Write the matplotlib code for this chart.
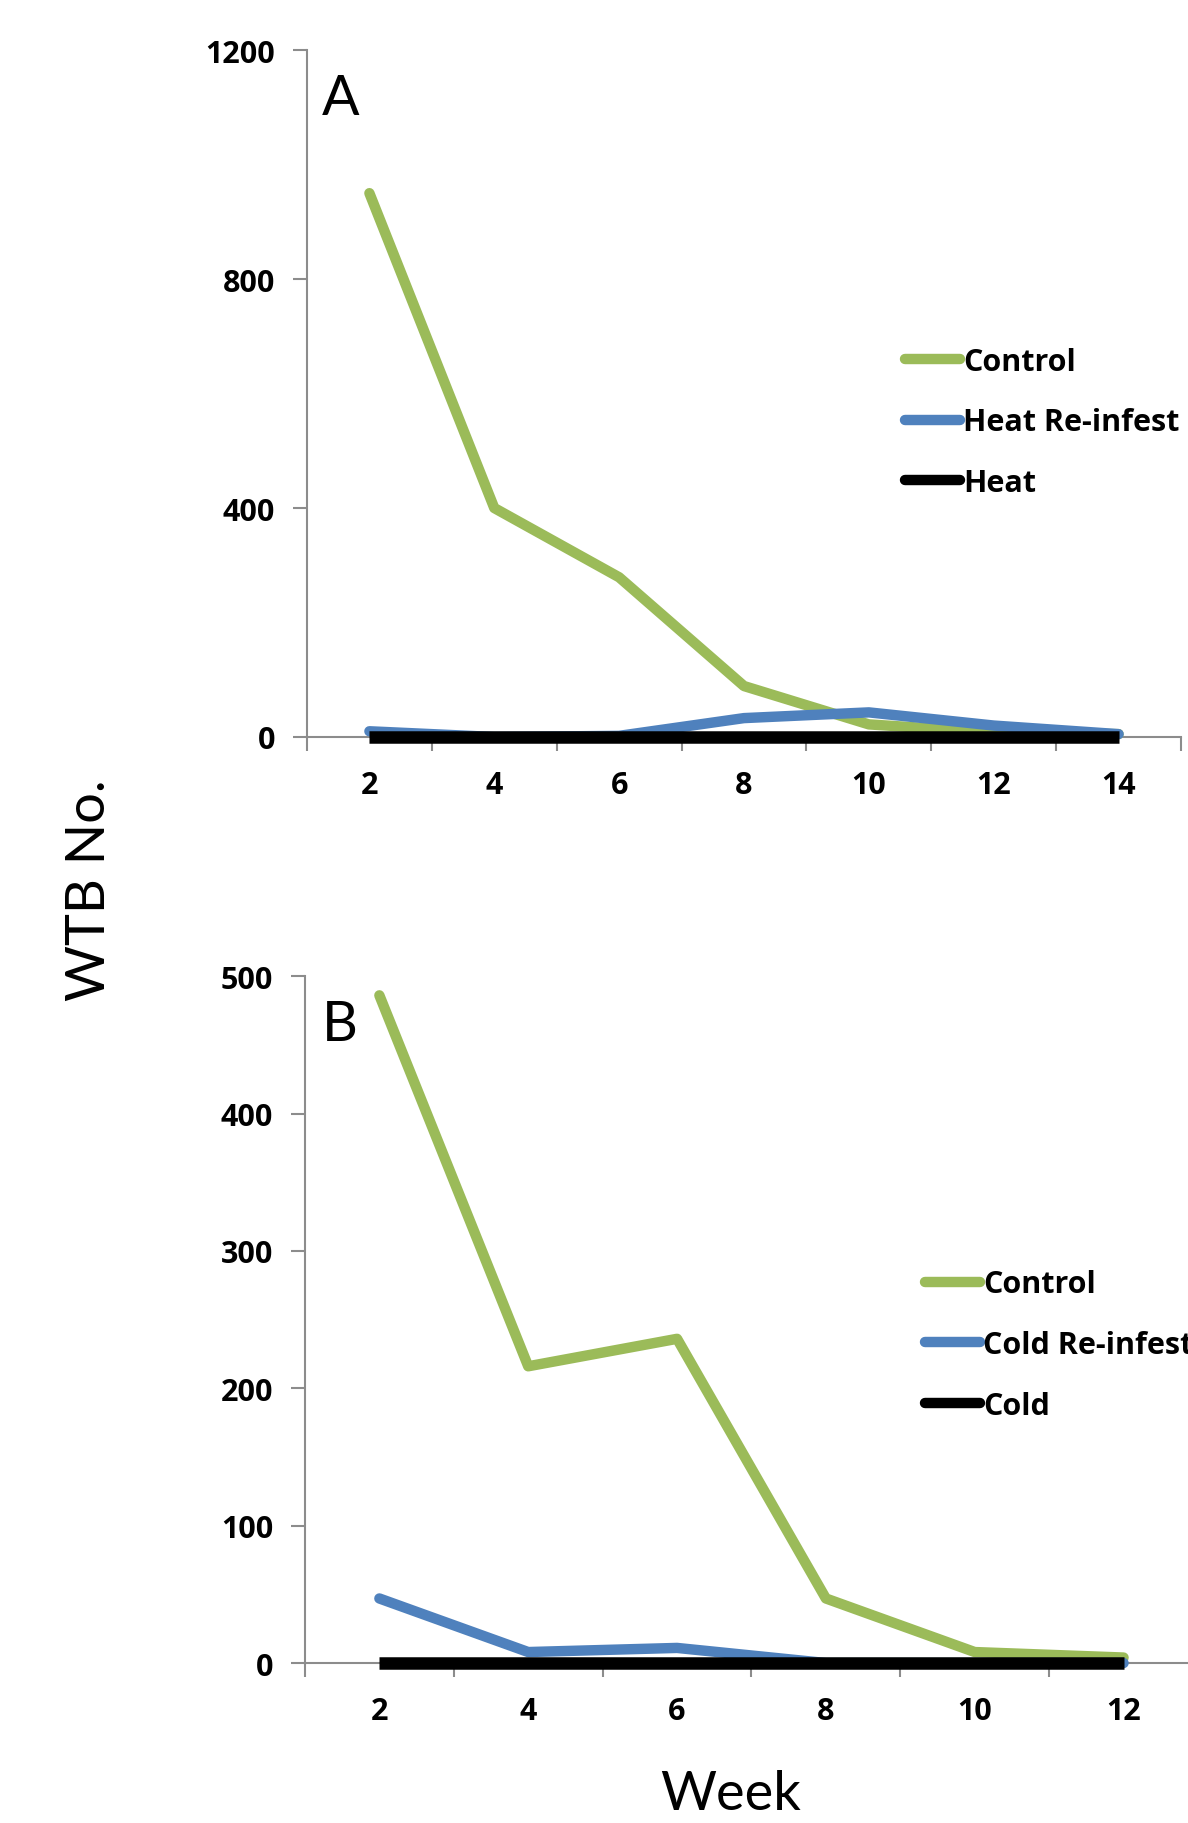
import matplotlib
matplotlib.use('Agg')
import matplotlib.pyplot as plt
import numpy as np

plt.rcParams['font.family'] = ['Lato', 'DejaVu Sans']

# ── Dane ──────────────────────────────────────────────────────────────────────
weeks_a = [2, 4, 6, 8, 10, 12, 14]
control_a = [950, 400, 279, 89, 22, 8, 5]
heat_reinf = [10, 0, 2, 33, 43, 20, 5]
heat = [0, 0, 0, 0, 0, 0, 0]

weeks_b = [2, 4, 6, 8, 10, 12]
control_b = [486, 216, 236, 47, 8, 4]
cold_reinf = [47, 8, 11, 0, 0, 0]
cold = [0, 0, 0, 0, 0, 0]

yticks_a = [0, 400, 800, 1200]
yticks_b = [0, 100, 200, 300, 400, 500]

GREEN = '#9BBB59'
BLUE = '#4F81BD'
BLACK = '#000000'
AXCOL = '#8C8C8C'
BOLD = {'family': ['Open Sans', 'DejaVu Sans'], 'weight': 'bold', 'size': 22}

fig = plt.figure(figsize=(11.88, 18.24), dpi=100)
ax_a = fig.add_axes([0.2584, 0.5954, 0.7357, 0.3766])
ax_b = fig.add_axes([0.2567, 0.0877, 0.7517, 0.3766])


def style_panel(ax, weeks, ymax, yticks):
    n = len(weeks)
    x = np.arange(n)
    ax.set_xlim(-0.5, n - 0.5)
    ax.set_ylim(0, ymax)
    ax.set_xticks(x)
    ax.set_xticklabels([str(w) for w in weeks], fontdict=BOLD)
    ax.set_xticks(np.arange(n + 1) - 0.5, minor=True)
    ax.tick_params(axis='x', which='major', length=0, pad=24)
    ax.tick_params(axis='x', which='minor', length=10, width=1.5, color=AXCOL,
                   direction='out')
    ax.set_yticks(yticks)
    ax.set_yticklabels([str(t) for t in yticks], fontdict=BOLD)
    ax.tick_params(axis='y', length=10, width=1.5, color=AXCOL, pad=13)
    for s in ['top', 'right']:
        ax.spines[s].set_visible(False)
    for s in ['left', 'bottom']:
        ax.spines[s].set_color(AXCOL)
        ax.spines[s].set_linewidth(1.5)
    return x


def draw_lines(ax, x, series, labels):
    colors = [GREEN, BLUE, BLACK]
    widths = [7.5, 7.5, 9]
    caps = ['round', 'round', 'butt']
    for y, lab, c, w, cap in zip(series, labels, colors, widths, caps):
        ax.plot(x, y, color=c, lw=w, solid_capstyle=cap, label=lab,
                clip_on=False, zorder=3)


def add_legend(ax, xa, ya):
    leg = ax.legend(loc='upper left', bbox_to_anchor=(xa, ya), frameon=False,
                    prop=BOLD, handlelength=1.8, handletextpad=0.1,
                    labelspacing=1.0, borderaxespad=0, borderpad=0)
    for h in leg.get_lines():
        h.set_solid_capstyle('round')
        h.set_linewidth(7.5)


# ── Panel A ──
x = style_panel(ax_a, weeks_a, 1200, yticks_a)
draw_lines(ax_a, x, [control_a, heat_reinf, heat],
           ['Control', 'Heat Re-infest', 'Heat'])
ax_a.text(0.038, 0.93, 'A', transform=ax_a.transAxes, fontsize=40,
          ha='center', va='center')
add_legend(ax_a, 0.684, 0.568)

# ── Panel B ──
x = style_panel(ax_b, weeks_b, 500, yticks_b)
draw_lines(ax_b, x, [control_b, cold_reinf, cold],
           ['Control', 'Cold Re-infest', 'Cold'])
ax_b.text(0.039, 0.929, 'B', transform=ax_b.transAxes, fontsize=40,
          ha='center', va='center')
add_legend(ax_b, 0.694, 0.573)

fig.text(0.075, 0.512, 'WTB No.', rotation=90, fontsize=39,
         ha='center', va='center')
fig.text(0.615, 0.016, 'Week', fontsize=39, ha='center', va='center')

fig.savefig('out.png', dpi=100)
